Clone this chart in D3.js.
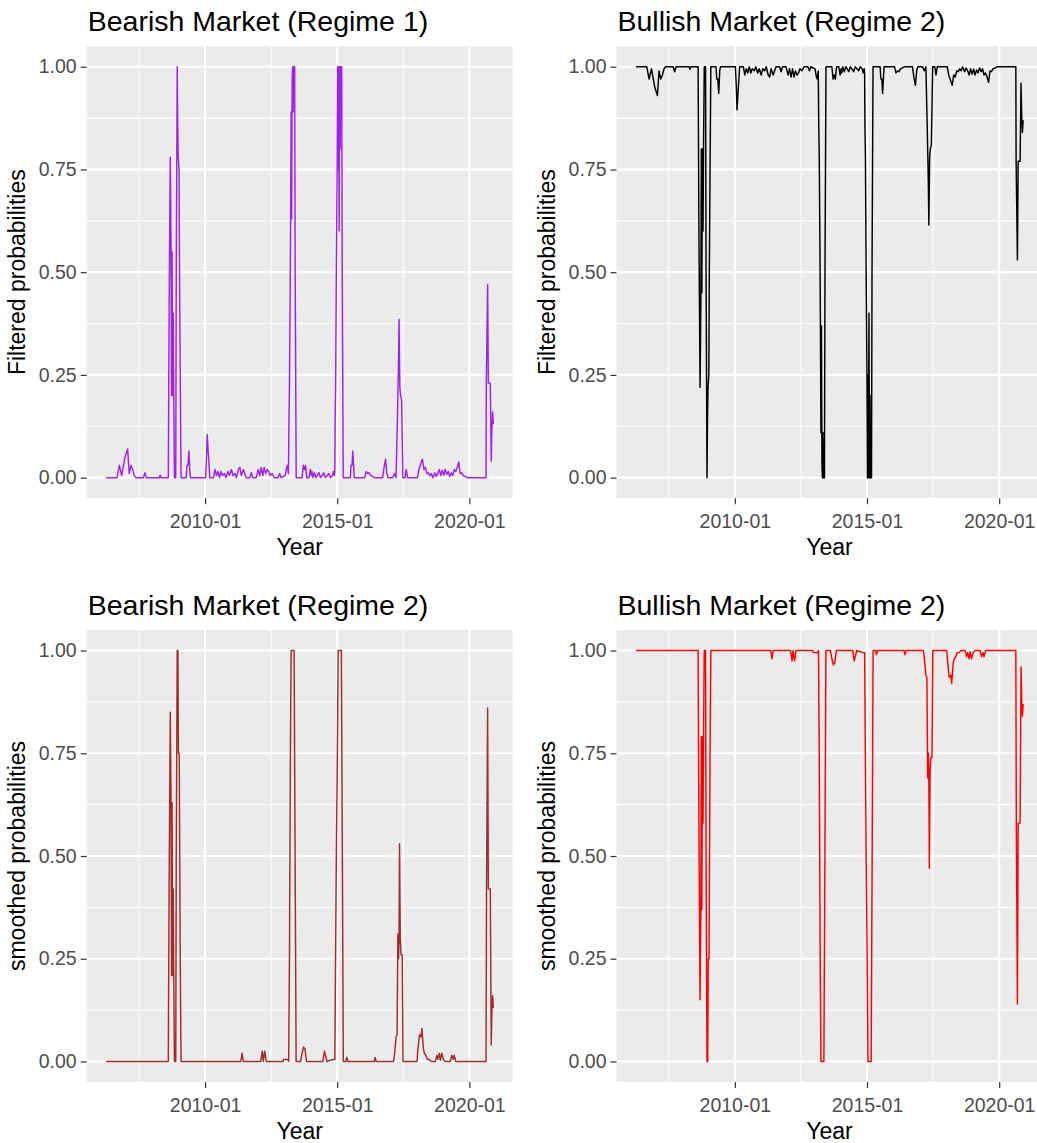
<!DOCTYPE html>
<html><head><meta charset="utf-8">
<script src="https://cdn.jsdelivr.net/npm/d3@7"></script>
<style>body{margin:0;background:#fff} svg{display:block}</style>
</head><body><div id="chart"></div>
<script>
// ---------------- DATA ----------------
const filtDates = ["2006-04-04","2006-09-02","2006-10-04","2006-11-06","2006-12-21","2007-01-27","2007-02-18","2007-03-14","2007-04-06","2007-04-28",
"2007-05-21","2007-09-01","2007-09-22","2007-10-12","2008-04-09","2008-04-20","2008-05-04","2008-08-11","2008-08-22","2008-09-07",
"2008-09-18","2008-09-25","2008-10-02","2008-10-09","2008-10-18","2008-10-25","2008-11-04","2008-11-22","2008-11-29","2008-12-12",
"2008-12-19","2008-12-26","2009-01-06","2009-01-13","2009-01-23","2009-02-03","2009-04-15","2009-04-26","2009-05-10","2009-05-23",
"2009-06-06","2009-06-16","2010-01-08","2010-01-19","2010-01-31","2010-02-11","2010-02-22","2010-03-08","2010-04-28","2010-05-18",
"2010-06-08","2010-06-29","2010-07-19","2010-08-09","2010-08-29","2010-09-26","2010-10-16","2010-11-13","2010-12-04","2010-12-31",
"2011-01-21","2011-02-17","2011-03-10","2011-04-06","2011-04-27","2011-05-17","2011-06-14","2011-07-04","2011-07-25","2011-09-11",
"2011-10-02","2011-10-22","2011-12-09","2012-01-06","2012-01-26","2012-02-16","2012-03-08","2012-03-28","2012-04-18","2012-05-08",
"2012-05-29","2012-06-19","2012-07-16","2012-08-13","2012-10-07","2012-10-27","2012-11-17","2013-01-12","2013-02-01","2013-02-12",
"2013-02-26","2013-03-05","2013-03-12","2013-03-21",
"2013-03-28","2013-04-04","2013-04-11","2013-04-18","2013-04-25","2013-05-02","2013-05-09","2013-05-16","2013-05-23","2013-05-30","2013-06-13",
"2013-09-02","2013-09-20","2013-10-04","2013-10-20","2013-11-06","2013-12-07","2013-12-25",
"2014-01-08","2014-01-18","2014-01-31","2014-02-21","2014-03-14","2014-04-24","2014-05-14","2014-07-01","2014-07-22","2014-09-08",
"2014-09-29","2014-10-26","2014-11-09","2014-11-23","2014-11-29",
"2014-12-03","2014-12-10","2014-12-20","2014-12-31","2015-01-07","2015-01-14","2015-01-21","2015-01-28","2015-02-04","2015-02-11",
"2015-02-18","2015-02-25","2015-03-04","2015-03-11","2015-03-18","2015-03-25",
"2015-07-01","2015-07-11","2015-07-25","2015-08-04",
"2015-08-15","2015-08-24","2016-01-16","2016-02-05","2016-02-26","2016-03-17","2016-04-07","2016-05-04","2016-06-01","2016-09-19",
"2016-10-09","2016-10-30","2016-11-17","2016-12-03","2017-02-04","2017-03-04","2017-03-24","2017-04-11","2017-04-18","2017-04-28",
"2017-05-04","2017-05-15","2017-05-25","2017-06-08","2017-06-17","2017-06-26","2017-07-26","2017-08-11","2017-08-29","2018-01-14",
"2018-02-03","2018-03-03","2018-03-23","2018-04-13","2018-05-03","2018-05-24","2018-06-14","2018-07-04","2018-07-25","2018-08-14",
"2018-09-11","2018-10-01","2018-10-22","2018-11-12","2018-12-02","2018-12-23","2019-01-13","2019-02-02","2019-02-23","2019-03-15",
"2019-04-05","2019-04-26","2019-05-16","2019-06-06","2019-06-26","2019-07-17","2019-08-07","2019-08-27","2019-09-17","2019-10-07",
"2019-11-04","2019-12-01","2020-08-18","2020-08-22","2020-09-09","2020-09-19","2020-10-16","2020-10-29","2020-11-07","2020-11-17",
"2020-11-27"];

const bearFilt = [0,0,0.03,0.005,0.05,0.07,0.01,0.03,0.02,0.005,
0,0,0.012,0,0,0.006,0,0,0.39,0.78,
0.57,0.2,0.55,0.2,0.4,0.2,0,0,0.5,1,
0.86,0.78,0.75,0.5,0.25,0,0,0.03,0.03,0.065,
0.01,0,0,0.04,0.105,0.07,0.04,0,0,0.02,
0.005,0.015,0,0.015,0.005,0.01,0,0.015,0.005,0.02,
0.005,0.01,0,0.02,0.025,0.005,0.02,0.01,0,0,
0.012,0,0,0.02,0.005,0.025,0.005,0.025,0.01,0.02,
0.015,0.005,0.01,0,0,0.01,0,0.005,0.025,0.03,
0.01,0.14,0.22,0.43,
0.63,0.89,0.63,0.97,1,0.89,1,0.92,1,0.5,0,
0,0.03,0.02,0.03,0,0,0.02,
0.005,0.015,0,0.012,0,0.012,0,0.012,0,0.01,
0,0.005,0.015,0.005,0.02,
0.14,0.22,0.5,0.75,1,0.75,1,0.6,1,0.8,
1,0.9,1,0.5,0.25,0,
0,0.03,0.03,0.065,
0.03,0,0,0.015,0.01,0.012,0.005,0.003,0,0,
0.025,0.045,0.01,0,0,0.01,0,0.14,0.2,0.29,
0.385,0.22,0.2,0.19,0.1,0,0,0.02,0,0,
0.02,0.035,0.045,0.02,0.025,0.01,0.012,0.005,0.01,0,
0.012,0.003,0.01,0.02,0.005,0.018,0.006,0.02,0.008,0.015,
0.003,0.012,0.005,0.02,0.015,0.025,0.038,0.01,0.012,0.005,
0.003,0,0,0.23,0.47,0.23,0.23,0.04,0.12,0.16,
0.13];

const bullFilt = [1,1,0.97,0.995,0.95,0.93,0.99,0.97,0.98,0.995,
1,1,0.988,1,1,0.994,1,1,0.61,0.22,
0.43,0.8,0.45,0.8,0.6,0.8,1,1,0.5,0,
0.14,0.22,0.25,0.5,0.75,1,1,0.97,0.97,0.935,
0.99,1,1,0.96,0.895,0.93,0.96,1,1,0.98,
0.995,0.985,1,0.985,0.995,0.99,1,0.985,0.995,0.98,
0.995,0.99,1,0.98,0.975,0.995,0.98,0.99,1,1,
0.988,1,1,0.98,0.995,0.975,0.995,0.975,0.99,0.98,
0.985,0.995,0.99,1,1,0.99,1,0.995,0.975,0.97,
0.99,0.86,0.78,0.57,
0.37,0.11,0.37,0.03,0,0.11,0,0.08,0,0.5,1,
1,0.97,0.98,0.97,1,1,0.98,
0.995,0.985,1,0.988,1,0.988,1,0.988,1,0.99,
1,0.995,0.985,0.995,0.98,
0.86,0.78,0.5,0.25,0,0.25,0,0.4,0,0.2,
0,0.1,0,0.5,0.75,1,
1,0.97,0.97,0.935,
0.97,1,1,0.985,0.99,0.988,0.995,0.997,1,1,
0.975,0.955,0.99,1,1,0.99,1,0.86,0.8,0.71,
0.615,0.78,0.8,0.81,0.9,1,1,0.98,1,1,
0.98,0.965,0.955,0.98,0.975,0.99,0.988,0.995,0.99,1,
0.988,0.997,0.99,0.98,0.995,0.982,0.994,0.98,0.992,0.985,
0.997,0.988,0.995,0.98,0.985,0.975,0.962,0.99,0.988,0.995,
0.997,1,1,0.77,0.53,0.77,0.77,0.96,0.88,0.84,
0.87];

const smoothDates = ["2006-04-04","2008-08-11","2008-08-22","2008-09-07","2008-09-18","2008-09-25","2008-10-02","2008-10-09","2008-10-18","2008-10-25",
"2008-11-04","2008-11-22","2008-11-29","2008-12-12","2008-12-22","2008-12-29","2009-01-09","2009-01-23","2009-02-03","2011-05-10",
"2011-05-27","2011-06-14","2012-02-09","2012-03-01","2012-03-15","2012-04-04","2012-04-25","2012-12-14","2012-12-21","2013-02-15",
"2013-03-01","2013-03-12","2013-03-25","2013-04-04","2013-04-18","2013-05-02","2013-05-15","2013-05-29","2013-06-12","2013-08-13",
"2013-09-02","2013-09-23","2013-10-13","2013-11-03","2014-06-18","2014-07-08","2014-07-29","2014-08-12","2014-11-02","2014-11-29",
"2014-12-09","2014-12-20","2015-01-03","2015-01-14","2015-01-30","2015-02-13","2015-02-27","2015-03-13","2015-03-26","2015-04-30",
"2015-05-13","2015-05-27","2016-05-25","2016-06-08","2016-06-22","2017-02-18","2017-03-04","2017-03-24","2017-04-07","2017-04-18",
"2017-04-28","2017-05-04","2017-05-11","2017-05-21","2017-06-01","2017-06-17","2017-06-28","2018-01-07","2018-01-20","2018-02-10",
"2018-03-03","2018-03-16","2018-04-06","2018-04-20","2018-05-10","2018-05-31","2018-06-27","2018-07-25","2018-09-18","2018-10-08",
"2018-10-22","2018-11-12","2018-11-25","2018-12-16","2019-01-06","2019-02-02","2019-04-12","2019-05-02","2019-05-23","2019-06-06",
"2019-06-26","2020-08-18","2020-08-25","2020-09-09","2020-09-19","2020-10-16","2020-10-29","2020-11-07","2020-11-17","2020-11-27"];

const bearSmooth = [0,0,0.42,0.85,0.63,0.21,0.63,0.21,0.42,0.21,
0,0,0.5,1,1,0.75,0.75,0.25,0,0,
0.02,0,0,0.025,0,0.025,0,0,0.005,0.005,
0,0.25,0.75,1,1,1,1,0.5,0,0,
0.02,0.035,0.03,0,0,0.025,0.01,0,0.005,0.005,
0.25,0.5,0.75,1,1,1,1,0.5,0,0,
0.01,0,0,0.01,0,0,0.02,0.06,0.065,0.31,
0.25,0.3,0.53,0.3,0.26,0.26,0,0,0.03,0.065,
0.06,0.08,0.03,0.02,0.015,0.005,0.005,0,0,0.015,
0.005,0.02,0.003,0.02,0.005,0,0,0.015,0.005,0.015,
0,0,0.42,0.86,0.42,0.42,0.04,0.12,0.16,0.13];

const bullSmooth = [1,1,0.58,0.15,0.37,0.79,0.37,0.79,0.58,0.79,
1,1,0.5,0,0,0.25,0.25,0.75,1,1,
0.98,1,1,0.975,1,0.975,1,1,0.995,0.995,
1,0.75,0.25,0,0,0,0,0.5,1,1,
0.98,0.965,0.97,1,1,0.975,0.99,1,0.995,0.995,
0.75,0.5,0.25,0,0,0,0,0.5,1,1,
0.99,1,1,0.99,1,1,0.98,0.94,0.935,0.69,
0.75,0.7,0.47,0.7,0.74,0.74,1,1,0.97,0.935,
0.94,0.92,0.97,0.98,0.985,0.995,0.995,1,1,0.985,
0.995,0.98,0.997,0.98,0.995,1,1,0.985,0.995,0.985,
1,1,0.58,0.14,0.58,0.58,0.96,0.88,0.84,0.87];

const xTickDates = ["2010-01-01","2015-01-01","2020-01-01"];
const xTickLabels = ["2010-01","2015-01","2020-01"];
const xMinorDates = ["2007-07-02","2012-07-02","2017-07-02"];
const yTicks = [0, 0.25, 0.5, 0.75, 1];
const yTickLabels = ["0.00","0.25","0.50","0.75","1.00"];
const yMinor = [0.125, 0.375, 0.625, 0.875];

const titles = ["Bearish Market (Regime 1)","Bullish Market (Regime 2)","Bearish Market (Regime 2)","Bullish Market (Regime 2)"];
const yLabels = ["Filtered probabilities","Filtered probabilities","smoothed probabilities","smoothed probabilities"];
const xLabel = "Year";

// ---------------- DRAW ----------------
const parse = d3.timeParse("%Y-%m-%d");
const W = 426, H = 452;
const layout = [{left:86.7, top:46.2},{left:616.5, top:46.2},{left:86.7, top:630},{left:616.5, top:630}];
const panels = [
  {dates: filtDates, values: bearFilt, color: "#A020F0"},
  {dates: filtDates, values: bullFilt, color: "#000000"},
  {dates: smoothDates, values: bearSmooth, color: "#A52A2A"},
  {dates: smoothDates, values: bullSmooth, color: "#FF0000"}
];

const svg = d3.select("#chart").append("svg")
  .attr("width", 1037).attr("height", 1143)
  .style("font-family", "'Liberation Sans', Arial, sans-serif");
svg.append("rect").attr("width", 1037).attr("height", 1143).attr("fill", "#fff");

const [d0, d1] = d3.extent(filtDates.concat(smoothDates).map(parse));
const pad = (d1 - d0) * 0.05;

panels.forEach((p, i) => {
  const L = layout[i];
  const g = svg.append("g").attr("transform", `translate(${L.left},${L.top})`);
  const x = d3.scaleTime().domain([new Date(+d0 - pad), new Date(+d1 + pad)]).range([0, W]);
  const y = d3.scaleLinear().domain([-0.05, 1.05]).range([H, 0]);

  g.append("rect").attr("width", W).attr("height", H).attr("fill", "#EBEBEB");

  g.selectAll(".mgx").data(xMinorDates.map(parse)).join("line")
    .attr("x1", d => x(d)).attr("x2", d => x(d)).attr("y1", 0).attr("y2", H)
    .attr("stroke", "#fff").attr("stroke-width", 1.1);
  g.selectAll(".mgy").data(yMinor).join("line")
    .attr("x1", 0).attr("x2", W).attr("y1", d => y(d)).attr("y2", d => y(d))
    .attr("stroke", "#fff").attr("stroke-width", 1.1);
  g.selectAll(".Mgx").data(xTickDates.map(parse)).join("line")
    .attr("x1", d => x(d)).attr("x2", d => x(d)).attr("y1", 0).attr("y2", H)
    .attr("stroke", "#fff").attr("stroke-width", 2.2);
  g.selectAll(".Mgy").data(yTicks).join("line")
    .attr("x1", 0).attr("x2", W).attr("y1", d => y(d)).attr("y2", d => y(d))
    .attr("stroke", "#fff").attr("stroke-width", 2.2);

  const pts = p.dates.map((d, k) => ({date: parse(d), value: p.values[k]}));
  const line = d3.line().x(d => x(d.date)).y(d => y(d.value));
  g.append("path").datum(pts).attr("d", line)
    .attr("fill", "none").attr("stroke", p.color).attr("stroke-width", 1.45)
    .attr("stroke-linejoin", "round").attr("stroke-linecap", "butt");

  const yAxis = d3.axisLeft(y).tickValues(yTicks).tickFormat((d, k) => yTickLabels[k]).tickSize(6).tickPadding(4);
  const gy = g.append("g").call(yAxis).attr("font-family", null).attr("font-size", null);
  gy.select(".domain").remove();
  gy.selectAll("line").attr("stroke", "#333333").attr("stroke-width", 1.2);
  gy.selectAll("text").attr("fill", "#4D4D4D").style("font-size", "19.5px");

  const xAxis = d3.axisBottom(x).tickValues(xTickDates.map(parse)).tickFormat((d, k) => xTickLabels[k]).tickSize(6).tickPadding(10);
  const gx = g.append("g").attr("transform", `translate(0,${H})`).call(xAxis).attr("font-family", null).attr("font-size", null);
  gx.select(".domain").remove();
  gx.selectAll("line").attr("stroke", "#333333").attr("stroke-width", 1.2);
  gx.selectAll("text").attr("fill", "#4D4D4D").style("font-size", "19.5px");

  g.append("text").attr("x", 1).attr("y", -15).text(titles[i])
    .attr("fill", "#000").style("font-size", "28.5px");
  g.append("text").attr("x", W / 2).attr("y", H + 57).attr("text-anchor", "middle")
    .text(xLabel).attr("fill", "#000").style("font-size", "23px");
  g.append("text").attr("transform", `translate(${25 - 86.7},${H / 2}) rotate(-90)`)
    .attr("text-anchor", "middle").text(yLabels[i]).attr("fill", "#000").style("font-size", "23px");
});
</script>
</body></html>
